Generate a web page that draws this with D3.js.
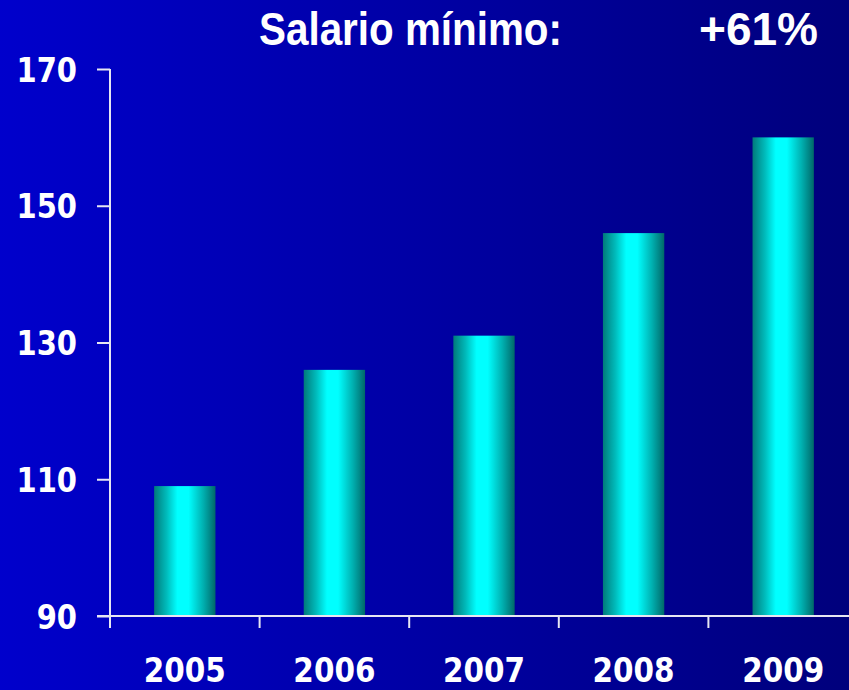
<!DOCTYPE html>
<html>
<head>
<meta charset="utf-8">
<script src="https://cdn.jsdelivr.net/npm/d3@7"></script>
<style>
  html, body { margin: 0; padding: 0; background: #00009a; }
  svg { display: block; }
</style>
</head>
<body>
<svg id="chart" width="849" height="690"></svg>
<script>
const years = ["2005", "2006", "2007", "2008", "2009"];
const values = [109, 126, 131, 146, 160];
const yTicks = [90, 110, 130, 150, 170];
const titleText = "Salario mínimo:";
const changeText = "+61%";

const W = 849, H = 690;
const svg = d3.select("#chart");
const defs = svg.append("defs");

const bg = defs.append("linearGradient").attr("id", "bg")
  .attr("x1", "0%").attr("x2", "100%").attr("y1", "0%").attr("y2", "0%");
bg.append("stop").attr("offset", "0%").attr("stop-color", "#0000cc");
bg.append("stop").attr("offset", "100%").attr("stop-color", "#00007c");

const barG = defs.append("linearGradient").attr("id", "bar")
  .attr("x1", "0%").attr("x2", "100%").attr("y1", "0%").attr("y2", "0%");
[["0%", "#007a7a"], ["20%", "#00baba"], ["38%", "#00ffff"], ["56%", "#00ffff"], ["80%", "#00b0b0"], ["100%", "#006868"]]
  .forEach(([o, c]) => barG.append("stop").attr("offset", o).attr("stop-color", c));

svg.append("rect").attr("width", W).attr("height", H).attr("fill", "url(#bg)");

const axisX0 = 110, axisY0 = 616;
const y = d3.scaleLinear().domain([90, 170]).range([axisY0, 69]);
const x = d3.scaleBand().domain(years).range([axisX0, axisX0 + 5 * 149.6]).padding(0);
const barW = x.bandwidth() * 0.41;

// bars
svg.append("g").selectAll("rect").data(values).join("rect")
  .attr("x", (d, i) => x(years[i]) + (x.bandwidth() - barW) / 2)
  .attr("width", barW)
  .attr("y", d => y(d))
  .attr("height", d => y(90) - y(d))
  .attr("fill", "url(#bar)");

const axisColor = "#e6e6f2";

// y axis
const yAxis = svg.append("g").attr("transform", `translate(${axisX0},0)`)
  .call(d3.axisLeft(y).tickValues(yTicks).tickSize(13).tickPadding(20).tickFormat(d3.format("d")));
yAxis.select(".domain").remove();
yAxis.selectAll("line").attr("stroke", axisColor).attr("stroke-width", 2);
yAxis.selectAll("text")
  .attr("fill", "#ffffff")
  .attr("font-family", "'DejaVu Sans', Verdana, sans-serif")
  .attr("font-weight", "bold")
  .attr("font-size", 29)
  .attr("dy", "0.36em")
  .attr("transform", "scale(1,1.15)");
svg.append("line").attr("x1", axisX0).attr("x2", axisX0)
  .attr("y1", y(170)).attr("y2", axisY0 + 12)
  .attr("stroke", axisColor).attr("stroke-width", 2);

// x axis
const xAxis = svg.append("g").attr("transform", `translate(0,${axisY0})`)
  .call(d3.axisBottom(x).tickSize(0).tickPadding(0));
xAxis.select(".domain").remove();
xAxis.selectAll("text")
  .attr("fill", "#ffffff")
  .attr("font-family", "'DejaVu Sans', Verdana, sans-serif")
  .attr("font-weight", "bold")
  .attr("font-size", 29.5)
  .attr("y", 0).attr("dy", 0)
  .attr("transform", "translate(0,66) scale(1,1.12)");
svg.append("line").attr("x1", axisX0 - 13).attr("x2", W)
  .attr("y1", axisY0).attr("y2", axisY0)
  .attr("stroke", axisColor).attr("stroke-width", 2);
svg.append("g").selectAll("line").data(years.slice(1)).join("line")
  .attr("x1", d => x(d)).attr("x2", d => x(d))
  .attr("y1", axisY0).attr("y2", axisY0 + 12)
  .attr("stroke", axisColor).attr("stroke-width", 2);

// title
svg.append("text").attr("x", 259).attr("y", 45)
  .attr("font-family", "'Liberation Sans', Arial, sans-serif")
  .attr("font-weight", "bold").attr("font-size", 46)
  .attr("textLength", 303).attr("lengthAdjust", "spacingAndGlyphs")
  .attr("fill", "#ffffff").text(titleText);
svg.append("text").attr("x", 699).attr("y", 45)
  .attr("font-family", "'Liberation Sans', Arial, sans-serif")
  .attr("font-weight", "bold").attr("font-size", 46)
  .attr("textLength", 119).attr("lengthAdjust", "spacingAndGlyphs")
  .attr("fill", "#ffffff").text(changeText);
</script>
</body>
</html>
